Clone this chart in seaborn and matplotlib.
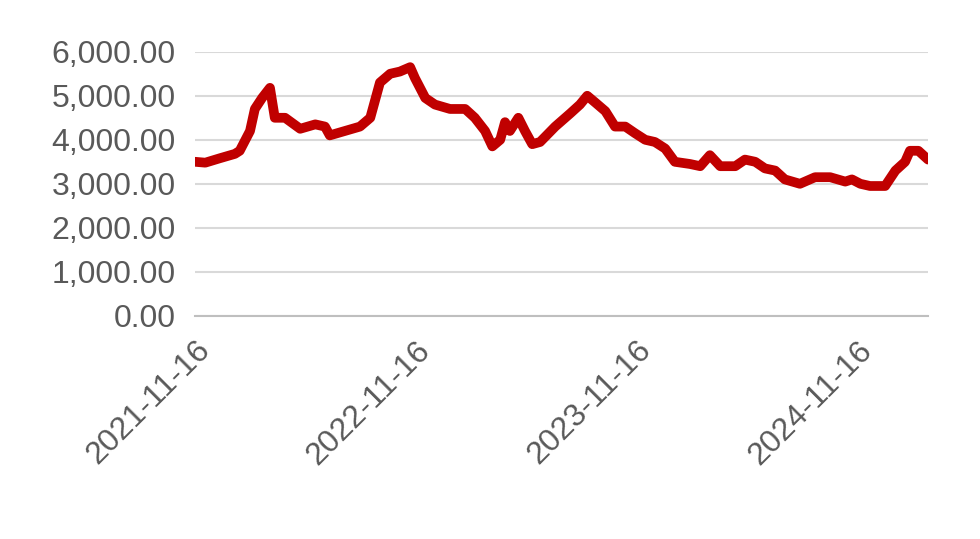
import numpy as np
import pandas as pd
import matplotlib
matplotlib.use("Agg")
import matplotlib.pyplot as plt
import matplotlib.dates as mdates
from matplotlib.ticker import FuncFormatter
import seaborn as sns

# Values
dates = ["2021-11-16", "2021-12-03", "2021-12-27", "2022-01-21", "2022-01-29", "2022-02-15",
         "2022-02-23", "2022-03-07", "2022-03-20", "2022-03-28", "2022-04-14", "2022-05-09",
         "2022-06-03", "2022-06-19", "2022-06-27", "2022-07-22", "2022-08-16", "2022-09-02",
         "2022-09-18", "2022-10-05", "2022-10-21", "2022-11-07", "2022-11-15", "2022-12-02",
         "2022-12-18", "2023-01-12", "2023-02-06", "2023-02-22", "2023-03-11", "2023-03-23",
         "2023-04-05", "2023-04-13", "2023-04-21", "2023-05-05", "2023-05-16", "2023-05-28",
         "2023-06-10", "2023-07-05", "2023-07-30", "2023-08-15", "2023-08-27", "2023-09-09",
         "2023-09-26", "2023-10-12", "2023-10-29", "2023-11-14", "2023-12-01", "2023-12-17",
         "2024-01-03", "2024-01-19", "2024-02-13", "2024-03-01", "2024-03-17", "2024-04-03",
         "2024-04-28", "2024-05-14", "2024-05-31", "2024-06-16", "2024-07-03", "2024-07-19",
         "2024-08-13", "2024-09-07", "2024-10-02", "2024-10-27", "2024-11-07", "2024-11-21",
         "2024-12-07", "2025-01-01", "2025-01-18", "2025-02-03", "2025-02-11", "2025-02-25",
         "2025-03-13"]
values = [3500, 3480, 3580, 3680, 3750, 4200,
          4700, 4950, 5180, 4500, 4500, 4250,
          4350, 4300, 4100, 4200, 4300, 4500,
          5300, 5500, 5550, 5650, 5400, 4950,
          4800, 4700, 4700, 4500, 4200, 3850,
          4000, 4400, 4200, 4500, 4200, 3900,
          3950, 4300, 4600, 4800, 5000, 4850,
          4650, 4300, 4300, 4150, 4000, 3950,
          3800, 3500, 3450, 3400, 3650, 3400,
          3400, 3550, 3500, 3350, 3300, 3100,
          3000, 3150, 3150, 3050, 3100, 3000,
          2950, 2950, 3300, 3500, 3750, 3750,
          3550]
tick_labels = ["2021-11-16", "2022-11-16", "2023-11-16", "2024-11-16"]

df = pd.DataFrame({"date": pd.to_datetime(dates), "value": values})

sns.set_theme(style="white")
plt.rcParams["font.family"] = ["Liberation Sans", "DejaVu Sans"]

fig = plt.figure(figsize=(9.8, 5.39), dpi=100)
ax = fig.add_axes([0.199, 0.414, 0.748, 0.49])

sns.lineplot(data=df, x="date", y="value", ax=ax, color="#C00000", linewidth=7,
             solid_capstyle="round", solid_joinstyle="round")

ax.set_ylim(0, 6000)
ax.set_yticks(np.arange(0, 6001, 1000))
ax.yaxis.set_major_formatter(FuncFormatter(lambda v, p: f"{v:,.2f}"))
ax.set_xlim(df["date"].min(), df["date"].max())
ax.set_xticks(pd.to_datetime(tick_labels))
ax.xaxis.set_major_formatter(mdates.DateFormatter("%Y-%m-%d"))

ax.grid(axis="y", color="#d9d9d9", linewidth=1.5)
ax.set_axisbelow(True)
for s in ["top", "right", "left"]:
    ax.spines[s].set_visible(False)
ax.spines["bottom"].set_color("#bfbfbf")
ax.spines["bottom"].set_linewidth(1.5)
ax.tick_params(axis="x", direction="out", length=8, width=1.5, color="#bfbfbf",
               labelsize=23, labelcolor="#595959", rotation=45, pad=6)
ax.tick_params(axis="y", length=0, labelsize=23, labelcolor="#595959", pad=14)
for lbl in ax.get_xticklabels():
    lbl.set_ha("right")
    lbl.set_rotation_mode("anchor")
ax.set_xlabel("")
ax.set_ylabel("")

fig.savefig("out.png", dpi=100)
